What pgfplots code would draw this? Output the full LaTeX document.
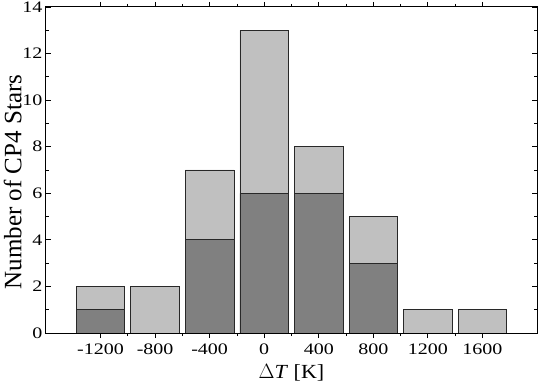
\documentclass[border=0pt]{standalone}
\usepackage{pgfplots}
\pgfplotsset{compat=1.18}
\usepackage{fontspec}
\setmainfont{Liberation Serif}
\newfontfamily\tickfont[FakeStretch=1.25]{Liberation Serif}
\newfontfamily\xlabfont[FakeStretch=1.1]{Liberation Serif}
\definecolor{lightbar}{RGB}{192,192,192}
\definecolor{darkbar}{RGB}{128,128,128}
\definecolor{edge}{RGB}{40,40,40}
\begin{document}
\begin{tikzpicture}
\begin{axis}[
  scale only axis,
  width=491bp, height=326bp,
  xmin=-1600, xmax=2000,
  ymin=0, ymax=14,
  xtick={-1200,-800,-400,0,400,800,1200,1600},
  ytick={0,2,...,14},
  minor x tick num=1,
  minor y tick num=1,
  tick align=inside,
  tick pos=both,
  major tick length=5bp,
  minor tick length=3bp,
  every tick/.style={black, line width=0.8bp},
  axis line style={black, line width=1bp},
  /pgf/number format/assume math mode=true,
  /pgf/number format/.cd, set thousands separator={}, /pgfplots/.cd,
  tick label style={font=\tickfont\fontsize{16bp}{18bp}\selectfont},
  xticklabel style={yshift=-2bp},
  yticklabel style={xshift=0bp},
  xlabel={\xlabfont$\Delta$\textit{T} [K]},
  ylabel={Number of CP4 Stars},
  xlabel style={font=\xlabfont\fontsize{20bp}{23bp}\selectfont, yshift=-3bp},
  ylabel style={font=\fontsize{25bp}{28bp}\selectfont, yshift=-6bp, xshift=-12bp},
  ybar, bar width=356, bar shift=0pt,
]
\addplot[fill=lightbar, draw=edge, line width=0.8bp] coordinates {
  (-1200,2) (-800,2) (-400,7) (0,13) (400,8) (800,5) (1200,1) (1600,1)};
\addplot[fill=darkbar, draw=edge, line width=0.8bp] coordinates {
  (-1200,1) (-400,4) (0,6) (400,6) (800,3)};
\end{axis}
\pgfresetboundingbox
\path (current axis.south west) ++(-46bp,-52bp) coordinate (bl);
\path (current axis.north east) ++(1bp,7bp) coordinate (tr);
\path[use as bounding box] (bl) rectangle (tr);
\end{tikzpicture}
\end{document}
